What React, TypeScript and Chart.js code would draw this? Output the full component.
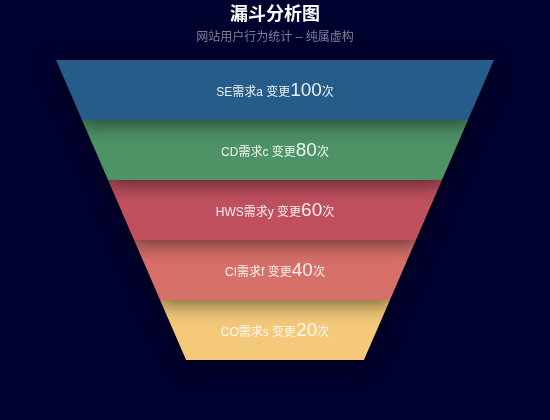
import { useEffect, useRef } from 'react'
import { Chart, registerables, type Plugin } from 'chart.js'

Chart.register(...registerables)

// 漏斗のデータ
const categories = ['SE需求a', 'CD需求c', 'HWS需求y', 'CI需求f', 'CO需求s']
const values = [100, 80, 60, 40, 20]
const colors = ['#255c8a', '#4e9366', '#c1505f', '#d8706a', '#f4c97a']
const MAX_VALUE = 100
const MIN_SIZE = 0.406

const FONT = '"Liberation Sans", "Noto Sans CJK SC", sans-serif'

// value -> relative funnel width (0..1)
const sizeOf = (v: number) => MIN_SIZE + ((1 - MIN_SIZE) * v) / MAX_VALUE

const funnelPlugin: Plugin<'bar'> = {
  id: 'funnel',
  afterDatasetsDraw(chart) {
    const { ctx } = chart
    const xScale = chart.scales.x
    const meta = chart.getDatasetMeta(0)
    const cx = xScale.getPixelForValue(0)
    const half = (v: number) => xScale.getPixelForValue(sizeOf(v) / 2) - cx

    ctx.save()
    // draw bottom-up so each piece throws its shadow on the one below
    for (let i = values.length - 1; i >= 0; i--) {
      const bar = meta.data[i] as any
      const top = bar.y - bar.height / 2
      const bottom = bar.y + bar.height / 2
      const wTop = half(values[i])
      const wBot = half(i + 1 < values.length ? values[i + 1] : 0)
      ctx.beginPath()
      ctx.moveTo(cx - wTop, top)
      ctx.lineTo(cx + wTop, top)
      ctx.lineTo(cx + wBot, bottom)
      ctx.lineTo(cx - wBot, bottom)
      ctx.closePath()
      ctx.fillStyle = colors[i]
      ctx.shadowColor = 'rgba(0, 0, 0, 0.55)'
      ctx.shadowBlur = 20
      ctx.shadowOffsetY = 4
      ctx.fill()
    }
    ctx.restore()

    // labels
    ctx.save()
    ctx.textBaseline = 'alphabetic'
    ctx.fillStyle = 'rgba(255, 255, 255, 0.9)'
    values.forEach((v, i) => {
      const bar = meta.data[i] as any
      const parts = [
        { text: categories[i] + ' 变更', size: 12 },
        { text: String(v), size: 19 },
        { text: '次', size: 12 },
      ]
      const widths = parts.map((p) => {
        ctx.font = `${p.size}px ${FONT}`
        return ctx.measureText(p.text).width
      })
      const total = widths.reduce((a, b) => a + b, 0)
      let x = cx - total / 2
      const y = bar.y + 6
      parts.forEach((p, k) => {
        ctx.font = `${p.size}px ${FONT}`
        ctx.fillText(p.text, x, y)
        x += widths[k]
      })
    })
    ctx.restore()
  },
}

export default function App() {
  const chartRef = useRef<HTMLCanvasElement>(null)
  const chartInstance = useRef<Chart | null>(null)

  useEffect(() => {
    if (!chartRef.current) return
    if (chartInstance.current) chartInstance.current.destroy()

    Chart.defaults.font.family = FONT

    chartInstance.current = new Chart(chartRef.current, {
      type: 'bar',
      data: {
        labels: categories,
        datasets: [
          {
            label: '变更',
            data: values.map((v) => [-sizeOf(v) / 2, sizeOf(v) / 2]) as any,
            backgroundColor: 'transparent',
            borderWidth: 0,
            barPercentage: 1,
            categoryPercentage: 1,
          },
        ],
      },
      options: {
        indexAxis: 'y',
        animation: false,
        responsive: true,
        maintainAspectRatio: false,
        layout: { padding: { left: 56, right: 56, top: 0, bottom: 60 } },
        scales: {
          x: { display: false, min: -0.5, max: 0.5 },
          y: { display: false },
        },
        plugins: {
          legend: { display: false },
          tooltip: { enabled: false },
          title: {
            display: true,
            text: '漏斗分析图',
            color: '#ffffff',
            font: { size: 18, weight: 'bold', lineHeight: 1.2 },
            padding: { top: 4, bottom: 4 },
          },
          subtitle: {
            display: true,
            text: '网站用户行为统计 – 纯属虚构',
            color: '#7e7e98',
            font: { size: 12, lineHeight: 1.2 },
            padding: { top: 1, bottom: 15 },
          },
        },
      },
      plugins: [funnelPlugin],
    })

    return () => {
      if (chartInstance.current) {
        chartInstance.current.destroy()
        chartInstance.current = null
      }
    }
  }, [])

  return (
    <div
      style={{
        position: 'fixed',
        left: 0,
        top: 0,
        width: 550,
        height: 420,
        background: '#01012f',
      }}
    >
      <canvas ref={chartRef} />
    </div>
  )
}
